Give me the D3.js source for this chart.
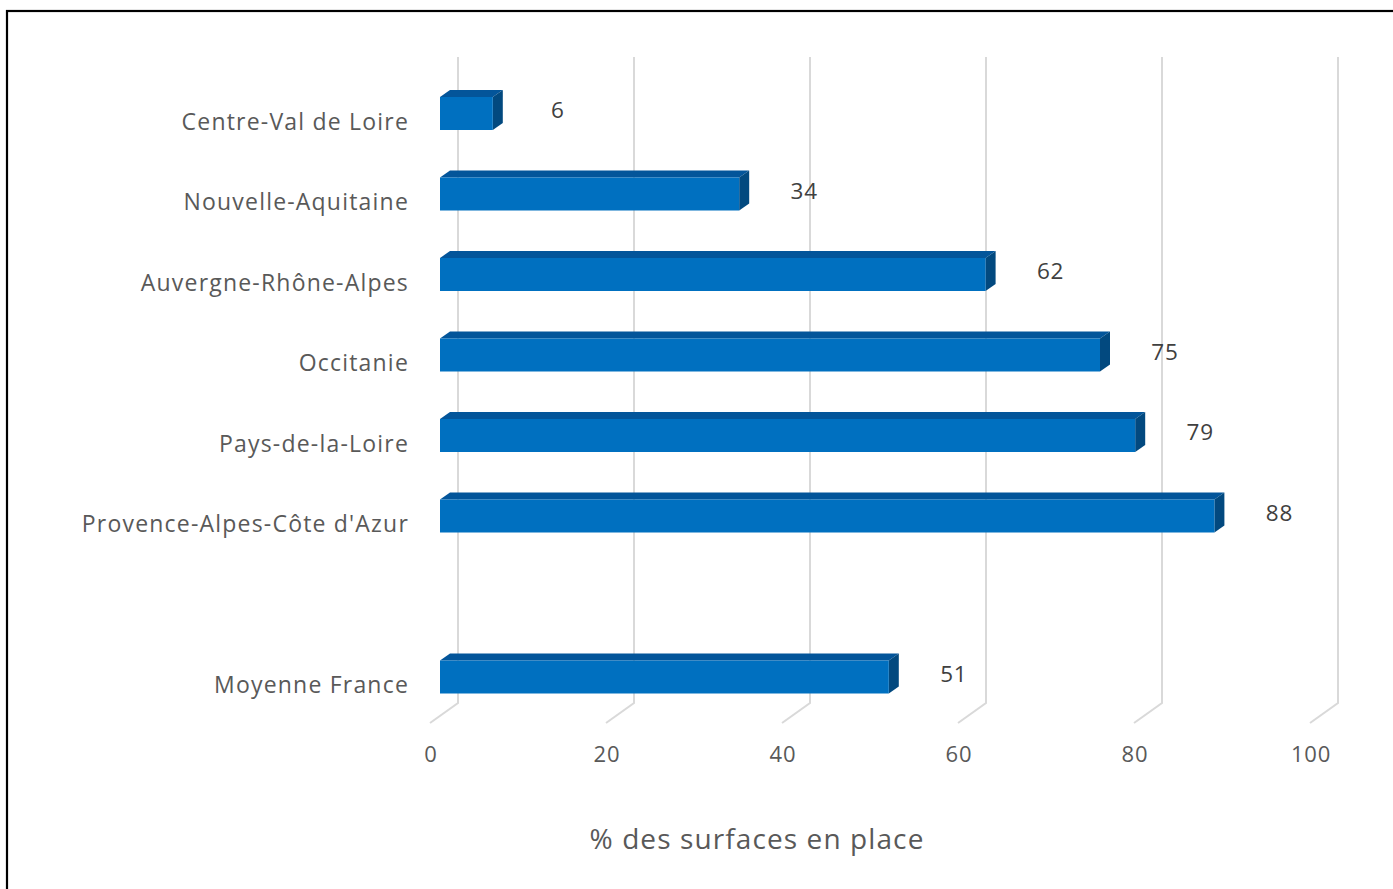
<!DOCTYPE html>
<html>
<head>
<meta charset="utf-8">
<script src="https://cdn.jsdelivr.net/npm/d3@7"></script>
<style>
  html, body { margin: 0; padding: 0; background: #fff; }
  svg { display: block; }
  text { font-family: "Open Sans", "Noto Sans", sans-serif; }
</style>
</head>
<body>
<svg id="chart" width="1393" height="889"></svg>
<script>
const categories = ["Centre-Val de Loire", "Nouvelle-Aquitaine", "Auvergne-Rhône-Alpes", "Occitanie", "Pays-de-la-Loire", "Provence-Alpes-Côte d'Azur", "", "Moyenne France"];
const values = [6, 34, 62, 75, 79, 88, null, 51];
const tickValues = [0, 20, 40, 60, 80, 100];
const axisTitle = "% des surfaces en place";

const svg = d3.select("#chart");

// chart frame
svg.append("rect").attr("x", 7).attr("y", 11).attr("width", 1400).attr("height", 900)
  .attr("fill", "none").attr("stroke", "#000").attr("stroke-width", 2.2);

// front plane of bars
const x = d3.scaleLinear().domain([0, 100]).range([440, 1320]);
const y = d3.scalePoint().domain(categories.map((c, i) => i)).range([113.5, 677]);
const barH = 33;
const dx = 10, dy = -7;          // bar depth
const backDx = 18;               // back wall offset
const floorDx = -28, floorDy = 20;
const wallTop = 57, wallBottom = 703;

// gridlines (back wall + floor)
svg.append("g").selectAll("path").data(tickValues).join("path")
  .attr("d", v => {
    const xb = x(v) + backDx;
    return `M${xb},${wallTop} L${xb},${wallBottom} L${xb + floorDx},${wallBottom + floorDy}`;
  })
  .attr("fill", "none").attr("stroke", "#d9d9d9").attr("stroke-width", 2);

// tick labels
svg.append("g").selectAll("text").data(tickValues).join("text")
  .attr("x", v => x(v) - 9)
  .attr("y", 753)
  .attr("text-anchor", "middle").attr("dominant-baseline", "central")
  .attr("font-size", 22).attr("letter-spacing", 0.8).attr("fill", "#595959")
  .text(v => v);

// category labels
svg.append("g").selectAll("text").data(categories).join("text")
  .attr("x", 409)
  .attr("y", (c, i) => y(i) + 7)
  .attr("text-anchor", "end").attr("dominant-baseline", "central")
  .attr("font-size", 23).attr("letter-spacing", 1.2).attr("fill", "#595959")
  .text(c => c);

const data = categories.map((c, i) => ({ c, i, v: values[i] })).filter(d => d.v != null);

const bars = svg.append("g").selectAll("g").data(data).join("g");
// top face
bars.append("path")
  .attr("d", d => {
    const t = y(d.i) - barH / 2, x0 = x(0), x1 = x(d.v);
    return `M${x0},${t} L${x0 + dx},${t + dy} L${x1 + dx},${t + dy} L${x1},${t} Z`;
  })
  .attr("fill", "#03559a");
// side face
bars.append("path")
  .attr("d", d => {
    const t = y(d.i) - barH / 2, b = t + barH, x1 = x(d.v);
    return `M${x1},${t} L${x1 + dx},${t + dy} L${x1 + dx},${b + dy} L${x1},${b} Z`;
  })
  .attr("fill", "#02497f");
// front face
bars.append("rect")
  .attr("x", x(0))
  .attr("y", d => y(d.i) - barH / 2)
  .attr("width", d => x(d.v) - x(0))
  .attr("height", barH)
  .attr("fill", "#0070c0");

// value labels
svg.append("g").selectAll("text").data(data).join("text")
  .attr("x", d => x(d.v) + dx + 55)
  .attr("y", d => y(d.i) - 4)
  .attr("text-anchor", "middle").attr("dominant-baseline", "central")
  .attr("font-size", 22.5).attr("letter-spacing", 0.8).attr("fill", "#404040")
  .text(d => d.v);

// axis title
svg.append("text")
  .attr("x", 757).attr("y", 838)
  .attr("text-anchor", "middle").attr("dominant-baseline", "central")
  .attr("font-size", 28).attr("letter-spacing", 1.1).attr("fill", "#595959")
  .text(axisTitle);
</script>
</body>
</html>
